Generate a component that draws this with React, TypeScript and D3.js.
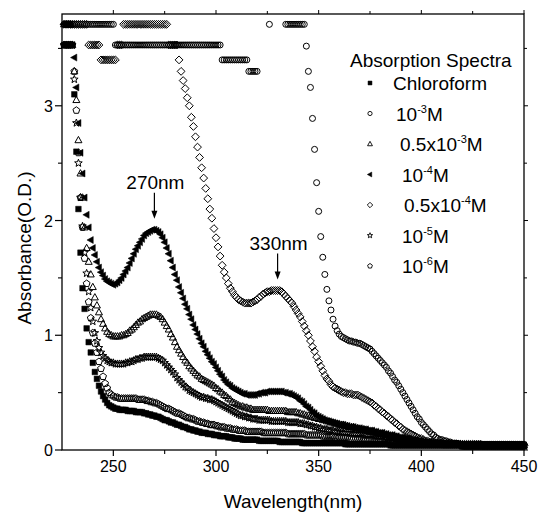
import React from "react";
import * as d3 from "d3";

const W = 539;
const H = 513;
const plot = { left: 62, right: 524, top: 14, bottom: 450 };

// Measurement grid (nm), 1 nm step
const wavelengths = d3.range(226, 451);

const xMajor = [250, 300, 350, 400, 450];
const xMinor = [275, 325, 375, 425];
const yMajor = [0, 1, 2, 3];
const yMinor = [0.5, 1.5, 2.5, 3.5];

const chloroform = [
  [3.53, 3.53, 3.53, 3.53],
  [3.53, 3.1, 2.6, 2.1, 1.72, 1.41, 1.23, 1.06, 0.94, 0.85],
  [0.76, 0.68, 0.62, 0.56, 0.51, 0.47, 0.44, 0.41, 0.39, 0.38],
  [0.37, 0.36, 0.36, 0.35, 0.35, 0.35, 0.35, 0.34, 0.34, 0.34],
  [0.34, 0.33, 0.33, 0.33, 0.33, 0.32, 0.32, 0.31, 0.31, 0.3],
  [0.3, 0.29, 0.29, 0.28, 0.27, 0.26, 0.26, 0.25, 0.24, 0.24],
  [0.23, 0.22, 0.22, 0.21, 0.2, 0.2, 0.19, 0.18, 0.18, 0.17],
  [0.17, 0.16, 0.16, 0.15, 0.15, 0.15, 0.14, 0.14, 0.14, 0.13],
  [0.13, 0.13, 0.12, 0.12, 0.12, 0.12, 0.11, 0.11, 0.11, 0.1],
  [0.1, 0.1, 0.1, 0.09, 0.09, 0.09, 0.09, 0.09, 0.09, 0.09],
  [0.09, 0.08, 0.08, 0.08, 0.08, 0.08, 0.08, 0.08, 0.08, 0.08],
  [0.08, 0.07, 0.07, 0.07, 0.07, 0.07, 0.07, 0.07, 0.07, 0.07],
  [0.07, 0.07, 0.06, 0.06, 0.06, 0.06, 0.06, 0.06, 0.06, 0.06],
  [0.06, 0.06, 0.06, 0.06, 0.06, 0.06, 0.06, 0.06, 0.06, 0.06],
  [0.06, 0.06, 0.06, 0.05, 0.05, 0.05, 0.05, 0.05, 0.05, 0.05],
  [0.05, 0.05, 0.05, 0.05, 0.05, 0.05, 0.05, 0.05, 0.05, 0.05],
  [0.05, 0.05, 0.05, 0.05, 0.05, 0.04, 0.04, 0.04, 0.04, 0.04],
  [0.04, 0.04, 0.04, 0.04, 0.04, 0.04, 0.04, 0.04, 0.04, 0.04],
  [0.04, 0.04, 0.04, 0.04, 0.04, 0.04, 0.04, 0.04, 0.04, 0.04],
  [0.04, 0.04, 0.04, 0.04, 0.04, 0.04, 0.04, 0.04, 0.04, 0.04],
  [0.03, 0.03, 0.03, 0.03, 0.03, 0.03, 0.03, 0.03, 0.03, 0.03],
  [0.03, 0.03, 0.03, 0.03, 0.03, 0.03, 0.03, 0.03, 0.03, 0.03],
  [0.03, 0.03, 0.03, 0.03, 0.03, 0.03, 0.03, 0.03, 0.03, 0.03],
  [0.03],
].flat();

const conc1e3 = [
  [3.71, 3.71, 3.71, 3.71],
  [3.71, 3.71, 3.71, 3.71, 3.71, 3.71, 3.71, 3.71, 3.71, 3.71],
  [3.71, 3.71, 3.71, 3.71, 3.71, 3.71, 3.71, 3.71, 3.71, 3.71],
  [3.71, 3.53, 3.53, 3.53, 3.53, 3.53, 3.53, 3.53, 3.53, 3.53],
  [3.53, 3.53, 3.53, 3.53, 3.53, 3.53, 3.53, 3.53, 3.53, 3.53],
  [3.53, 3.53, 3.53, 3.53, 3.53, 3.53, 3.53, 3.53, 3.53, 3.53],
  [3.53, 3.53, 3.53, 3.53, 3.53, 3.53, 3.53, 3.53, 3.53, 3.53],
  [3.53, 3.53, 3.53, 3.53, 3.53, 3.53, 3.53, 3.53, 3.53, 3.53],
  [3.53, 3.53, 3.53, 3.4, 3.4, 3.4, 3.4, 3.4, 3.4, 3.4],
  [3.4, 3.4, 3.4, 3.4, 3.4, 3.4, 3.3, 3.3, 3.3, 3.3],
  [3.3, null, null, null, null, null, 3.71, null, null, null],
  [null, null, null, null, 3.71, 3.71, 3.71, 3.71, 3.71, 3.71],
  [3.71, 3.71, 3.71, 3.71, 3.52, 3.3, 3.16, 2.89, 2.62, 2.33],
  [2.08, 1.86, 1.68, 1.53, 1.4, 1.3, 1.22, 1.14, 1.08, 1.04],
  [1.01, 0.99, 0.98, 0.97, 0.96, 0.95, 0.95, 0.94, 0.94, 0.93],
  [0.93, 0.92, 0.91, 0.9, 0.89, 0.88, 0.86, 0.84, 0.82, 0.8],
  [0.78, 0.76, 0.74, 0.72, 0.69, 0.67, 0.64, 0.61, 0.59, 0.56],
  [0.53, 0.5, 0.47, 0.44, 0.41, 0.38, 0.35, 0.32, 0.29, 0.27],
  [0.24, 0.22, 0.2, 0.18, 0.16, 0.14, 0.13, 0.11, 0.1, 0.09],
  [0.09, 0.08, 0.08, 0.07, 0.07, 0.06, 0.06, 0.06, 0.05, 0.05],
  [0.05, 0.05, 0.05, 0.05, 0.05, 0.05, 0.05, 0.05, 0.05, 0.05],
  [0.05, 0.05, 0.05, 0.05, 0.05, 0.05, 0.05, 0.05, 0.05, 0.05],
  [0.05, 0.05, 0.05, 0.05, 0.05, 0.05, 0.05, 0.05, 0.05, 0.05],
  [0.05],
].flat();

const conc5e4 = [
  [3.71, 3.71, 3.71, 3.71],
  [3.53, 3.3, 3.05, 2.7, 2.41, 2.2, 1.94, 1.76, 1.64, 1.53],
  [1.42, 1.33, 1.26, 1.2, 1.14, 1.1, 1.06, 1.03, 1.01, 1.0],
  [0.99, 0.99, 0.99, 0.99, 1.0, 1.0, 1.01, 1.02, 1.04, 1.05],
  [1.07, 1.09, 1.11, 1.12, 1.14, 1.15, 1.16, 1.17, 1.18, 1.18],
  [1.18, 1.18, 1.17, 1.16, 1.14, 1.11, 1.08, 1.05, 1.01, 0.98],
  [0.94, 0.9, 0.87, 0.84, 0.81, 0.78, 0.76, 0.73, 0.71, 0.69],
  [0.67, 0.65, 0.64, 0.62, 0.61, 0.6, 0.59, 0.58, 0.57, 0.56],
  [0.54, 0.53, 0.51, 0.5, 0.48, 0.47, 0.45, 0.44, 0.42, 0.41],
  [0.4, 0.39, 0.38, 0.38, 0.37, 0.37, 0.36, 0.36, 0.35, 0.35],
  [0.35, 0.35, 0.35, 0.35, 0.35, 0.35, 0.34, 0.34, 0.34, 0.34],
  [0.34, 0.34, 0.34, 0.34, 0.34, 0.33, 0.33, 0.33, 0.33, 0.33],
  [0.32, 0.32, 0.31, 0.31, 0.3, 0.3, 0.29, 0.29, 0.28, 0.28],
  [0.27, 0.27, 0.26, 0.26, 0.25, 0.25, 0.24, 0.24, 0.23, 0.23],
  [0.22, 0.22, 0.22, 0.21, 0.21, 0.2, 0.2, 0.2, 0.19, 0.19],
  [0.18, 0.18, 0.18, 0.17, 0.17, 0.16, 0.16, 0.16, 0.15, 0.15],
  [0.14, 0.14, 0.14, 0.13, 0.13, 0.12, 0.12, 0.12, 0.11, 0.11],
  [0.1, 0.1, 0.1, 0.09, 0.09, 0.09, 0.08, 0.08, 0.08, 0.07],
  [0.07, 0.07, 0.07, 0.06, 0.06, 0.06, 0.06, 0.06, 0.05, 0.05],
  [0.05, 0.05, 0.05, 0.05, 0.05, 0.05, 0.05, 0.05, 0.05, 0.05],
  [0.04, 0.04, 0.04, 0.04, 0.04, 0.04, 0.04, 0.04, 0.04, 0.04],
  [0.04, 0.04, 0.04, 0.04, 0.04, 0.04, 0.04, 0.04, 0.04, 0.04],
  [0.04, 0.04, 0.04, 0.04, 0.04, 0.04, 0.04, 0.04, 0.04, 0.04],
  [0.04],
].flat();

const conc1e4 = [
  [3.71, 3.71, 3.71, 3.71],
  [3.53, 3.42, 3.16, 2.85, 2.59, 2.41, 2.2, 2.05, 1.94, 1.83],
  [1.76, 1.7, 1.64, 1.59, 1.55, 1.52, 1.49, 1.47, 1.46, 1.45],
  [1.44, 1.45, 1.46, 1.48, 1.5, 1.53, 1.56, 1.59, 1.63, 1.67],
  [1.71, 1.75, 1.78, 1.81, 1.84, 1.87, 1.89, 1.9, 1.91, 1.92],
  [1.92, 1.91, 1.9, 1.88, 1.85, 1.81, 1.76, 1.71, 1.65, 1.59],
  [1.53, 1.48, 1.42, 1.37, 1.32, 1.27, 1.23, 1.18, 1.14, 1.09],
  [1.05, 1.01, 0.97, 0.93, 0.9, 0.86, 0.83, 0.8, 0.77, 0.75],
  [0.72, 0.69, 0.66, 0.64, 0.61, 0.59, 0.57, 0.56, 0.54, 0.53],
  [0.52, 0.51, 0.5, 0.49, 0.49, 0.48, 0.48, 0.48, 0.48, 0.48],
  [0.49, 0.49, 0.5, 0.5, 0.5, 0.51, 0.51, 0.51, 0.51, 0.51],
  [0.51, 0.51, 0.51, 0.5, 0.5, 0.49, 0.49, 0.48, 0.47, 0.46],
  [0.45, 0.43, 0.42, 0.4, 0.38, 0.37, 0.35, 0.33, 0.32, 0.3],
  [0.29, 0.28, 0.27, 0.26, 0.25, 0.25, 0.24, 0.24, 0.23, 0.23],
  [0.22, 0.22, 0.22, 0.21, 0.21, 0.2, 0.2, 0.2, 0.19, 0.19],
  [0.19, 0.18, 0.18, 0.18, 0.17, 0.17, 0.17, 0.16, 0.16, 0.15],
  [0.15, 0.15, 0.14, 0.14, 0.13, 0.13, 0.13, 0.12, 0.12, 0.11],
  [0.11, 0.11, 0.1, 0.1, 0.1, 0.09, 0.09, 0.09, 0.08, 0.08],
  [0.08, 0.07, 0.07, 0.07, 0.07, 0.06, 0.06, 0.06, 0.06, 0.05],
  [0.05, 0.05, 0.05, 0.05, 0.05, 0.05, 0.05, 0.05, 0.05, 0.05],
  [0.04, 0.04, 0.04, 0.04, 0.04, 0.04, 0.04, 0.04, 0.04, 0.04],
  [0.04, 0.04, 0.04, 0.04, 0.04, 0.04, 0.04, 0.04, 0.04, 0.04],
  [0.04, 0.04, 0.04, 0.04, 0.04, 0.04, 0.04, 0.04, 0.04, 0.04],
  [0.04],
].flat();

const conc5e5 = [
  [3.71, 3.71, 3.71, 3.71],
  [3.71, 3.71, 3.71, 3.71, 3.71, 3.71, 3.71, 3.71, 3.53, 3.53],
  [3.53, 3.53, 3.53, 3.53, 3.4, 3.4, 3.4, 3.4, 3.4, 3.4],
  [3.4, 3.4, 3.53, 3.53, 3.53, 3.71, 3.71, 3.71, 3.71, 3.71],
  [3.71, 3.71, 3.71, 3.71, 3.71, 3.71, 3.71, 3.71, 3.71, 3.71],
  [3.71, 3.71, 3.71, 3.71, 3.71, 3.71, 3.71, 3.53, 3.53, 3.53],
  [3.53, 3.53, 3.4, 3.3, 3.22, 3.15, 3.07, 3.0, 2.9, 2.82],
  [2.73, 2.64, 2.55, 2.46, 2.37, 2.28, 2.19, 2.1, 2.02, 1.93],
  [1.85, 1.77, 1.69, 1.61, 1.55, 1.5, 1.45, 1.41, 1.38, 1.35],
  [1.33, 1.31, 1.3, 1.29, 1.28, 1.28, 1.28, 1.28, 1.29, 1.3],
  [1.31, 1.33, 1.34, 1.36, 1.37, 1.38, 1.38, 1.39, 1.39, 1.39],
  [1.39, 1.39, 1.38, 1.36, 1.34, 1.32, 1.3, 1.28, 1.25, 1.22],
  [1.19, 1.16, 1.12, 1.08, 1.04, 1.0, 0.95, 0.9, 0.86, 0.81],
  [0.77, 0.73, 0.69, 0.65, 0.62, 0.6, 0.57, 0.55, 0.54, 0.53],
  [0.52, 0.51, 0.5, 0.5, 0.49, 0.49, 0.49, 0.48, 0.48, 0.48],
  [0.47, 0.46, 0.45, 0.44, 0.43, 0.42, 0.41, 0.39, 0.38, 0.36],
  [0.35, 0.33, 0.32, 0.3, 0.29, 0.27, 0.26, 0.24, 0.23, 0.21],
  [0.2, 0.18, 0.17, 0.16, 0.15, 0.14, 0.13, 0.12, 0.11, 0.1],
  [0.1, 0.09, 0.08, 0.08, 0.07, 0.07, 0.07, 0.06, 0.06, 0.06],
  [0.06, 0.05, 0.05, 0.05, 0.05, 0.05, 0.05, 0.05, 0.05, 0.05],
  [0.05, 0.05, 0.05, 0.05, 0.05, 0.05, 0.05, 0.05, 0.05, 0.05],
  [0.04, 0.04, 0.04, 0.04, 0.04, 0.04, 0.04, 0.04, 0.04, 0.04],
  [0.04, 0.04, 0.04, 0.04, 0.04, 0.04, 0.04, 0.04, 0.04, 0.04],
  [0.04],
].flat();

const conc1e5 = [
  [3.53, 3.53, 3.53, 3.53],
  [3.53, 3.23, 2.85, 2.5, 2.2, 1.95, 1.72, 1.54, 1.38, 1.24],
  [1.12, 1.02, 0.95, 0.89, 0.85, 0.82, 0.8, 0.78, 0.77, 0.76],
  [0.76, 0.75, 0.75, 0.75, 0.75, 0.75, 0.76, 0.76, 0.77, 0.77],
  [0.78, 0.79, 0.79, 0.8, 0.8, 0.81, 0.81, 0.81, 0.81, 0.81],
  [0.81, 0.81, 0.8, 0.79, 0.78, 0.76, 0.74, 0.72, 0.7, 0.68],
  [0.66, 0.63, 0.61, 0.59, 0.57, 0.55, 0.54, 0.52, 0.51, 0.5],
  [0.49, 0.48, 0.47, 0.46, 0.46, 0.45, 0.45, 0.44, 0.44, 0.43],
  [0.42, 0.41, 0.4, 0.39, 0.38, 0.37, 0.36, 0.35, 0.34, 0.33],
  [0.32, 0.31, 0.3, 0.3, 0.29, 0.29, 0.28, 0.28, 0.27, 0.27],
  [0.27, 0.26, 0.26, 0.26, 0.26, 0.26, 0.26, 0.25, 0.25, 0.25],
  [0.25, 0.25, 0.25, 0.25, 0.25, 0.24, 0.24, 0.24, 0.24, 0.24],
  [0.24, 0.23, 0.23, 0.23, 0.22, 0.22, 0.21, 0.21, 0.2, 0.2],
  [0.19, 0.19, 0.18, 0.18, 0.18, 0.17, 0.17, 0.17, 0.16, 0.16],
  [0.16, 0.16, 0.15, 0.15, 0.15, 0.15, 0.15, 0.14, 0.14, 0.14],
  [0.14, 0.14, 0.13, 0.13, 0.13, 0.13, 0.13, 0.12, 0.12, 0.12],
  [0.12, 0.12, 0.11, 0.11, 0.11, 0.11, 0.1, 0.1, 0.1, 0.09],
  [0.09, 0.09, 0.09, 0.08, 0.08, 0.08, 0.08, 0.07, 0.07, 0.07],
  [0.07, 0.06, 0.06, 0.06, 0.06, 0.06, 0.05, 0.05, 0.05, 0.05],
  [0.05, 0.05, 0.05, 0.05, 0.05, 0.05, 0.05, 0.05, 0.05, 0.05],
  [0.04, 0.04, 0.04, 0.04, 0.04, 0.04, 0.04, 0.04, 0.04, 0.04],
  [0.04, 0.04, 0.04, 0.04, 0.04, 0.04, 0.04, 0.04, 0.04, 0.04],
  [0.04, 0.04, 0.04, 0.04, 0.04, 0.04, 0.04, 0.04, 0.04, 0.04],
  [0.04],
].flat();

const conc1e6 = [
  [3.53, 3.53, 3.53, 3.53],
  [3.53, 3.3, 2.96, 2.59, 2.2, 1.94, 1.67, 1.45, 1.29, 1.15],
  [1.02, 0.93, 0.85, 0.77, 0.71, 0.64, 0.58, 0.54, 0.5, 0.48],
  [0.47, 0.46, 0.46, 0.45, 0.45, 0.45, 0.45, 0.45, 0.45, 0.45],
  [0.45, 0.45, 0.44, 0.44, 0.44, 0.44, 0.43, 0.43, 0.42, 0.42],
  [0.41, 0.41, 0.4, 0.39, 0.38, 0.37, 0.36, 0.36, 0.35, 0.34],
  [0.33, 0.32, 0.32, 0.31, 0.3, 0.29, 0.28, 0.28, 0.27, 0.27],
  [0.26, 0.25, 0.25, 0.24, 0.24, 0.23, 0.23, 0.22, 0.22, 0.22],
  [0.21, 0.21, 0.2, 0.2, 0.2, 0.19, 0.19, 0.19, 0.18, 0.18],
  [0.18, 0.17, 0.17, 0.17, 0.17, 0.16, 0.16, 0.16, 0.16, 0.16],
  [0.16, 0.16, 0.16, 0.15, 0.15, 0.15, 0.15, 0.15, 0.15, 0.15],
  [0.15, 0.15, 0.15, 0.15, 0.15, 0.14, 0.14, 0.14, 0.14, 0.14],
  [0.14, 0.14, 0.14, 0.14, 0.13, 0.13, 0.13, 0.13, 0.13, 0.13],
  [0.13, 0.13, 0.12, 0.12, 0.12, 0.12, 0.12, 0.12, 0.11, 0.11],
  [0.11, 0.11, 0.11, 0.11, 0.11, 0.1, 0.1, 0.1, 0.1, 0.1],
  [0.1, 0.1, 0.1, 0.09, 0.09, 0.09, 0.09, 0.09, 0.09, 0.09],
  [0.09, 0.08, 0.08, 0.08, 0.08, 0.08, 0.08, 0.08, 0.07, 0.07],
  [0.07, 0.07, 0.07, 0.07, 0.07, 0.06, 0.06, 0.06, 0.06, 0.06],
  [0.06, 0.06, 0.06, 0.05, 0.05, 0.05, 0.05, 0.05, 0.05, 0.05],
  [0.05, 0.05, 0.05, 0.05, 0.05, 0.05, 0.05, 0.05, 0.05, 0.05],
  [0.04, 0.04, 0.04, 0.04, 0.04, 0.04, 0.04, 0.04, 0.04, 0.04],
  [0.04, 0.04, 0.04, 0.04, 0.04, 0.04, 0.04, 0.04, 0.04, 0.04],
  [0.04, 0.04, 0.04, 0.04, 0.04, 0.04, 0.04, 0.04, 0.04, 0.04],
  [0.04],
].flat();

type Sym = "square" | "circle" | "triangle" | "left" | "diamond" | "star" | "pentagon";

const seriesNames = ["Chloroform", "1e-3", "5e-4", "1e-4", "5e-5", "1e-5", "1e-6"];
const seriesValues: (number | null)[][] = [chloroform, conc1e3, conc5e4, conc1e4, conc5e5, conc1e5, conc1e6];
const seriesSymbols: Sym[] = ["square", "circle", "triangle", "left", "diamond", "star", "pentagon"];

// Legend labels: [prefix, superscript, suffix]
const legendTitle = "Absorption Spectra";
const legendLabels: [string, string, string][] = [
  ["Chloroform", "", ""],
  ["10", "-3", "M"],
  ["0.5x10", "-3", "M"],
  ["10", "-4", "M"],
  ["0.5x10", "-4", "M"],
  ["10", "-5", "M"],
  ["10", "-6", "M"],
];
const legendIndent = [393, 396, 400, 402, 404, 402, 402];

const peakNotes = [
  { label: "270nm", nm: 270, value: 1.92 },
  { label: "330nm", nm: 330, value: 1.39 },
];

function polygon(pts: [number, number][]) {
  return "M" + pts.map((p) => p[0].toFixed(2) + "," + p[1].toFixed(2)).join("L") + "Z";
}

function symbolPath(sym: Sym, k = 1): string {
  switch (sym) {
    case "square": {
      const h = 2.8 * k;
      return polygon([[-h, -h], [h, -h], [h, h], [-h, h]]);
    }
    case "circle": {
      const r = 3.0 * k;
      return `M${r},0A${r},${r} 0 1,1 ${-r},0A${r},${r} 0 1,1 ${r},0Z`;
    }
    case "triangle":
      return polygon([[0, -3.8 * k], [3.5 * k, 2.5 * k], [-3.5 * k, 2.5 * k]]);
    case "left":
      return polygon([[-3.8 * k, 0], [2.5 * k, -3.5 * k], [2.5 * k, 3.5 * k]]);
    case "diamond": {
      const h = 3.9 * k;
      return polygon([[0, -h], [h, 0], [0, h], [-h, 0]]);
    }
    case "star": {
      const pts: [number, number][] = [];
      for (let i = 0; i < 10; i++) {
        const r = (i % 2 === 0 ? 4.0 : 1.7) * k;
        const a = -Math.PI / 2 + (i * Math.PI) / 5;
        pts.push([r * Math.cos(a), r * Math.sin(a)]);
      }
      return polygon(pts);
    }
    case "pentagon": {
      const pts: [number, number][] = [];
      for (let i = 0; i < 5; i++) {
        const a = -Math.PI / 2 + (i * 2 * Math.PI) / 5;
        pts.push([3.6 * k * Math.cos(a), 3.6 * k * Math.sin(a)]);
      }
      return polygon(pts);
    }
  }
}

const filled = (s: Sym) => s === "square" || s === "left";

export default function App() {
  const x = d3.scaleLinear().domain([225, 450]).range([plot.left, plot.right]);
  const y = d3.scaleLinear().domain([0, 3.8]).range([plot.bottom, plot.top]);
  const font = "'Liberation Sans', Arial, sans-serif";

  return (
    <svg
      width={W}
      height={H}
      viewBox={`0 0 ${W} ${H}`}
      style={{ position: "absolute", left: 0, top: 0, background: "#fff" }}
      fontFamily={font}
    >
      <rect x={0} y={0} width={W} height={H} fill="#fff" />

      {/* data points */}
      {seriesValues.map((vals, si) => {
        const sym = seriesSymbols[si];
        const d = symbolPath(sym);
        return (
          <g key={seriesNames[si]}>
            {wavelengths.map((nm, i) => {
              const v = vals[i];
              if (v === null || v === undefined) return null;
              return (
                <path
                  key={nm}
                  d={d}
                  transform={`translate(${x(nm).toFixed(2)},${y(v).toFixed(2)})`}
                  fill={filled(sym) ? "#000" : "none"}
                  stroke="#000"
                  strokeWidth={filled(sym) ? 0.5 : 1}
                />
              );
            })}
          </g>
        );
      })}

      {/* frame */}
      <rect
        x={plot.left}
        y={plot.top}
        width={plot.right - plot.left}
        height={plot.bottom - plot.top}
        fill="none"
        stroke="#000"
        strokeWidth={1.3}
      />

      {/* x ticks */}
      {xMajor.map((t) => (
        <g key={"xM" + t}>
          <line x1={x(t)} x2={x(t)} y1={plot.bottom} y2={plot.bottom + 6} stroke="#000" strokeWidth={1.2} />
          <line x1={x(t)} x2={x(t)} y1={plot.top} y2={plot.top - 4} stroke="#000" strokeWidth={1} />
          <text x={x(t)} y={472} textAnchor="middle" fontSize={16}>
            {t}
          </text>
        </g>
      ))}
      {xMinor.map((t) => (
        <g key={"xm" + t}>
          <line x1={x(t)} x2={x(t)} y1={plot.bottom} y2={plot.bottom + 4} stroke="#000" strokeWidth={1.1} />
          <line x1={x(t)} x2={x(t)} y1={plot.top} y2={plot.top - 3} stroke="#000" strokeWidth={1} />
        </g>
      ))}

      {/* y ticks */}
      {yMajor.map((t) => (
        <g key={"yM" + t}>
          <line x1={plot.left} x2={plot.left - 7} y1={y(t)} y2={y(t)} stroke="#000" strokeWidth={1.2} />
          <line x1={plot.right} x2={plot.right + 4} y1={y(t)} y2={y(t)} stroke="#000" strokeWidth={1} />
          <text x={53} y={y(t) + 6} textAnchor="end" fontSize={16}>
            {t}
          </text>
        </g>
      ))}
      {yMinor.map((t) => (
        <g key={"ym" + t}>
          <line x1={plot.left} x2={plot.left - 4} y1={y(t)} y2={y(t)} stroke="#000" strokeWidth={1.1} />
          <line x1={plot.right} x2={plot.right + 3} y1={y(t)} y2={y(t)} stroke="#000" strokeWidth={1} />
        </g>
      ))}

      {/* axis titles */}
      <text x={(plot.left + plot.right) / 2} y={508} textAnchor="middle" fontSize={19}>
        Wavelength(nm)
      </text>
      <text transform="translate(31,248) rotate(-90)" textAnchor="middle" fontSize={19}>
        Absorbance(O.D.)
      </text>

      {/* peak annotations */}
      {peakNotes.map((p) => {
        const px = x(p.nm);
        const tipY = y(p.value) - 11;
        const baseY = tipY - 26;
        return (
          <g key={p.label}>
            <text x={px + 1} y={baseY - 4} textAnchor="middle" fontSize={19}>
              {p.label}
            </text>
            <line x1={px} x2={px} y1={baseY} y2={tipY - 6} stroke="#000" strokeWidth={1.2} />
            <path d={`M${px - 3},${tipY - 8}L${px + 3},${tipY - 8}L${px},${tipY}Z`} fill="#000" />
          </g>
        );
      })}

      {/* legend */}
      <text x={350} y={67} fontSize={19}>
        {legendTitle}
      </text>
      {legendLabels.map((lab, i) => {
        const cy = 83 + i * 30.5;
        const sym = seriesSymbols[i];
        return (
          <g key={"lg" + i}>
            <path
              d={symbolPath(sym, 0.7)}
              transform={`translate(370,${cy})`}
              fill={filled(sym) ? "#000" : "none"}
              stroke="#000"
              strokeWidth={filled(sym) ? 0.5 : 0.9}
            />
            <text x={legendIndent[i]} y={cy + 7} fontSize={19}>
              <tspan>{lab[0]}</tspan>
              {lab[1] && (
                <tspan fontSize={11} dy={-8}>
                  {lab[1]}
                </tspan>
              )}
              {lab[2] && <tspan dy={8}>{lab[2]}</tspan>}
            </text>
          </g>
        );
      })}
    </svg>
  );
}
